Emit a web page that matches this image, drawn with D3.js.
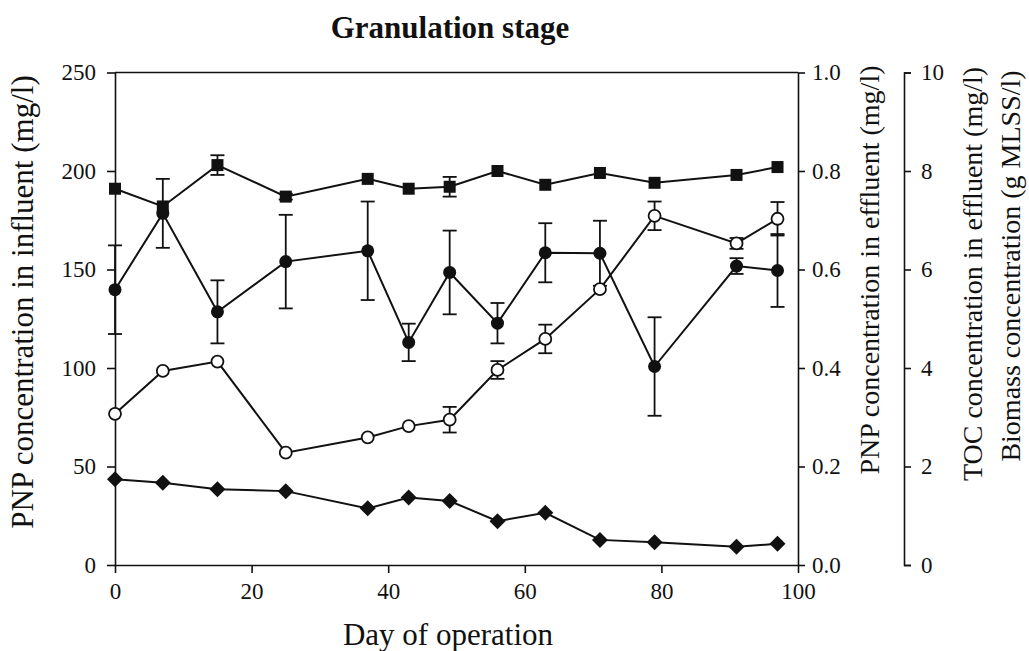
<!DOCTYPE html>
<html>
<head>
<meta charset="utf-8">
<script src="https://cdn.jsdelivr.net/npm/d3@7"></script>
<style>
  html, body { margin: 0; padding: 0; background: #fff; }
  svg text { font-family: "Liberation Serif", "Times New Roman", serif; fill: #111; }
</style>
</head>
<body>
<svg id="chart" width="1029" height="651"></svg>
<script>
// Sampling days
const days = [0, 7, 15, 25, 37, 43, 49, 56, 63, 71, 79, 91, 97];

// PNP in influent (mg/l), left axis
const influentPNP = [191, 182, 203, 187, 196, 191, 192, 200, 193, 199, 194, 198, 202];
const influentErr = [0, 0, 5, 1.5, 0, 0, 5, 0, 0, 0, 0, 0, 0];

// PNP in effluent (mg/l), first right axis
const effluentPNP = [0.559, 0.714, 0.514, 0.616, 0.638, 0.452, 0.594, 0.491, 0.634, 0.633, 0.403, 0.607, 0.598];
const effluentErr = [0.09, 0.07, 0.064, 0.095, 0.10, 0.038, 0.085, 0.041, 0.06, 0.066, 0.10, 0.016, 0.074];

// Biomass concentration (g MLSS/l), second right axis
const biomass = [3.07, 3.94, 4.13, 2.28, 2.59, 2.82, 2.95, 3.96, 4.59, 5.60, 7.09, 6.53, 7.03];
const biomassErr = [0, 0, 0, 0, 0, 0, 0.26, 0.18, 0.29, 0, 0.29, 0.11, 0.34];

// TOC in effluent (mg/l), second right axis
const tocEffluent = [1.74, 1.67, 1.54, 1.50, 1.15, 1.37, 1.30, 0.89, 1.06, 0.51, 0.46, 0.37, 0.43];

// Tick values
const xTicks = [0, 20, 40, 60, 80, 100];
const leftTicks = [0, 50, 100, 150, 200, 250];
const effTicks = [0, 0.2, 0.4, 0.6, 0.8, 1.0];
const tocTicks = [0, 2, 4, 6, 8, 10];

const svg = d3.select("#chart");
const plot = { left: 115, right: 798, top: 72.5, bottom: 565 };
const tocAxisX = 904;

const x = d3.scaleLinear().domain([0, 100]).range([plot.left, plot.right]);
const yLeft = d3.scaleLinear().domain([0, 250]).range([plot.bottom, plot.top]);
const yEff = d3.scaleLinear().domain([0, 1]).range([plot.bottom, plot.top]);
const yToc = d3.scaleLinear().domain([0, 10]).range([plot.bottom, plot.top]);

const tickFont = "23px";

function styleAxis(g) {
  g.selectAll("path.domain").attr("stroke", "#111").attr("stroke-width", 1.6);
  g.selectAll(".tick line").attr("stroke", "#111").attr("stroke-width", 1.6);
  g.selectAll(".tick text").style("font-size", tickFont).attr("fill", "#111");
}

// Frame top line
svg.append("line")
  .attr("x1", plot.left).attr("x2", plot.right)
  .attr("y1", plot.top).attr("y2", plot.top)
  .attr("stroke", "#111").attr("stroke-width", 1.6);

// Bottom axis
svg.append("g")
  .attr("transform", `translate(0,${plot.bottom})`)
  .call(d3.axisBottom(x).tickValues(xTicks).tickSize(8).tickSizeOuter(0).tickPadding(10).tickFormat(d3.format("d")))
  .call(styleAxis);

// Left axis
svg.append("g")
  .attr("transform", `translate(${plot.left},0)`)
  .call(d3.axisLeft(yLeft).tickValues(leftTicks).tickSize(8).tickSizeOuter(0).tickPadding(11).tickFormat(d3.format("d")))
  .call(styleAxis);

// Right axis: effluent PNP
svg.append("g")
  .attr("transform", `translate(${plot.right},0)`)
  .call(d3.axisRight(yEff).tickValues(effTicks).tickSize(7).tickSizeOuter(0).tickPadding(7).tickFormat(d3.format(".1f")))
  .call(styleAxis);

// Second right axis: TOC / biomass
svg.append("g")
  .attr("transform", `translate(${tocAxisX},0)`)
  .call(d3.axisRight(yToc).tickValues(tocTicks).tickSize(7).tickSizeOuter(7).tickPadding(10).tickFormat(d3.format("d")))
  .call(styleAxis);

// Titles
svg.append("text")
  .attr("x", 450).attr("y", 38)
  .attr("text-anchor", "middle")
  .style("font-size", "31px").style("font-weight", "bold")
  .text("Granulation stage");

svg.append("text")
  .attr("x", 448).attr("y", 645)
  .attr("text-anchor", "middle")
  .style("font-size", "31px")
  .text("Day of operation");

function vLabel(cx, cy, txt, size) {
  svg.append("text")
    .attr("transform", `translate(${cx},${cy}) rotate(-90)`)
    .attr("text-anchor", "middle")
    .attr("dy", "0.35em")
    .style("font-size", size)
    .text(txt);
}
vLabel(22, 302, "PNP concentration in influent (mg/l)", "31px");
vLabel(869, 270, "PNP concentration in effluent (mg/l)", "28px");
vLabel(972, 274, "TOC concentration in effluent (mg/l)", "28px");
vLabel(1010, 266, "Biomass concentration (g MLSS/l)", "28px");

// Series drawing
const series = [
  { name: "toc", vals: tocEffluent, err: null, y: yToc, marker: "diamond" },
  { name: "biomass", vals: biomass, err: biomassErr, y: yToc, marker: "open" },
  { name: "effluent", vals: effluentPNP, err: effluentErr, y: yEff, marker: "circle" },
  { name: "influent", vals: influentPNP, err: influentErr, y: yLeft, marker: "square" }
];

// Lines
series.forEach(s => {
  const pts = days.map((d, i) => [d, s.vals[i]]);
  svg.append("path")
    .datum(pts)
    .attr("fill", "none")
    .attr("stroke", "#111")
    .attr("stroke-width", 2)
    .attr("d", d3.line().x(p => x(p[0])).y(p => s.y(p[1])));
});

// Error bars
const capHalf = 7;
series.forEach(s => {
  if (!s.err) return;
  const g = svg.append("g").attr("stroke", "#111").attr("stroke-width", 1.8);
  days.forEach((d, i) => {
    const e = s.err[i];
    if (!e) return;
    const cx = x(d);
    const yHi = s.y(s.vals[i] + e), yLo = s.y(s.vals[i] - e);
    g.append("line").attr("x1", cx).attr("x2", cx).attr("y1", yHi).attr("y2", yLo);
    g.append("line").attr("x1", cx - capHalf).attr("x2", cx + capHalf).attr("y1", yHi).attr("y2", yHi);
    g.append("line").attr("x1", cx - capHalf).attr("x2", cx + capHalf).attr("y1", yLo).attr("y2", yLo);
  });
});

// Markers
series.forEach(s => {
  const g = svg.append("g");
  days.forEach((d, i) => {
    const cx = x(d), cy = s.y(s.vals[i]);
    if (s.marker === "square") {
      g.append("rect").attr("x", cx - 6).attr("y", cy - 6).attr("width", 12).attr("height", 12).attr("fill", "#111");
    } else if (s.marker === "circle") {
      g.append("circle").attr("cx", cx).attr("cy", cy).attr("r", 6.5).attr("fill", "#111");
    } else if (s.marker === "open") {
      g.append("circle").attr("cx", cx).attr("cy", cy).attr("r", 6).attr("fill", "#fff").attr("stroke", "#111").attr("stroke-width", 1.8);
    } else {
      g.append("path")
        .attr("d", `M${cx},${cy - 8}L${cx + 8},${cy}L${cx},${cy + 8}L${cx - 8},${cy}Z`)
        .attr("fill", "#111");
    }
  });
});
</script>
</body>
</html>
